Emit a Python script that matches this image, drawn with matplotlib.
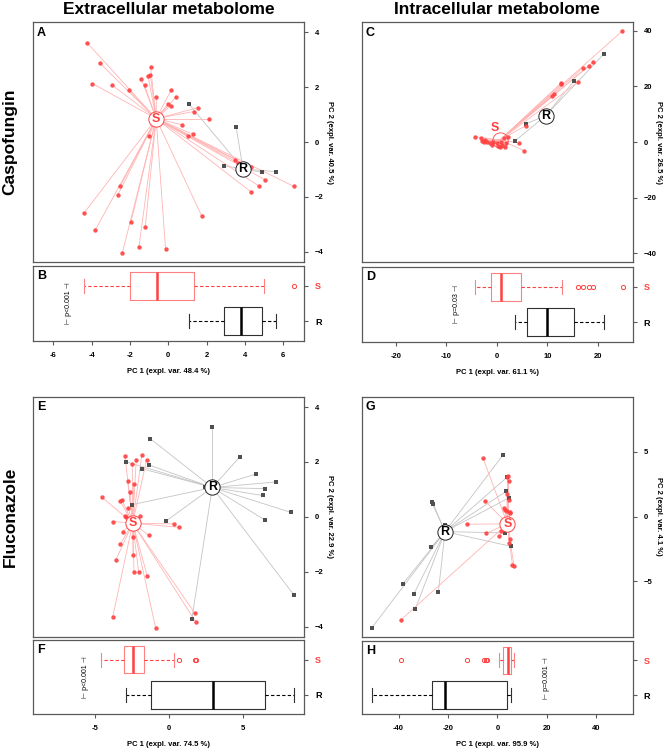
import matplotlib
matplotlib.use("Agg")
import matplotlib.pyplot as plt

plt.rcParams['font.family'] = ['Liberation Sans', 'DejaVu Sans']

RED = '#ff4040'
RED_LINE = '#ffb4b4'
GREY_PT = '#505050'
GREY_LINE = '#c4c4c4'
FRAME = '#5a5a5a'

# ---- panel A / B : caspofungin, extracellular ----
a_s_x = [-4.23, -3.58, -3.96, -2.92, -2.07, -1.41, -1.06, -0.94, -0.92, -1.23, -0.62, 0.16, 0.42,
         -0.02, 0.12, 1.32, 1.55, 2.11, 0.73, 1.01, 1.27, -0.99, 3.50, 3.64, 4.30, 5.03, 4.75, 4.33,
         6.54, -2.50, -2.64, -4.41, -3.81, -1.95, -1.20, -1.53, -2.40, -0.14, 1.74]
a_s_y = [3.61, 2.88, 2.13, 2.07, 1.90, 2.31, 2.42, 2.45, 2.74, 2.06, 1.64, 1.90, 1.65,
         1.38, 1.32, 1.11, 1.25, 0.85, 0.63, 0.23, 0.29, 0.23, -0.64, -0.76, -0.92, -1.37, -1.61, -1.82,
         -1.61, -1.60, -1.94, -2.60, -3.21, -2.92, -3.10, -3.83, -4.05, -3.89, -2.68]
a_r_x = [1.06, 3.55, 2.89, 3.96, 4.87, 5.62]
a_r_y = [1.40, 0.53, -0.86, -1.10, -1.10, -1.08]
a_cen_s = (-0.63, 0.85)
a_cen_r = (3.90, -0.98)
b_box_s = [-4.41, -2.00, -0.61, 1.32, 5.01]
b_fliers_s = [6.56]
b_box_r = [1.10, 2.91, 3.78, 4.89, 5.62]
b_fliers_r = []

# ---- panel C / D : caspofungin, intracellular ----
c_s_x = [24.87, 19.1, 18.3, 17.1, 16.0, 12.76, 12.7, 11.37, 10.97, 5.69, -4.37, -3.17, -2.9, -2.5,
         -2.0, -1.4, -1.05, -0.06, 0.27, 0.6, 1.06, 1.6, 1.9, 1.46, 2.1, 5.4, 0.85, -2.4, -0.7, 4.3]
c_s_y = [39.9, 28.8, 27.4, 26.7, 21.4, 21.2, 20.9, 17.3, 16.5, 5.86, 1.9, 1.3, 0.5, 0.1,
         -0.1, -0.5, -1.0, -0.5, -1.3, -1.7, -1.1, -1.7, -0.5, 1.3, 1.9, -3.1, 0.0, 0.7, -0.1, -0.3]
c_r_x = [3.57, 5.7, 9.86, 15.3, 21.2]
c_r_y = [0.36, 6.5, 9.0, 21.9, 31.6]
c_cen_s = (0.6, 0.7)
c_lab_s = (-0.5, 4.9)
c_cen_r = (9.66, 9.45)
d_box_s = [-4.43, -1.25, 0.73, 4.70, 12.9]
d_fliers_s = [16.0, 17.1, 18.3, 19.1, 25.0]
d_box_r = [3.57, 5.90, 9.86, 15.34, 21.2]
d_fliers_r = []

# ---- panel E / F : fluconazole, extracellular ----
e_s_x = [-2.95, -1.82, -1.49, -2.19, -2.46, -2.77, -2.36, -2.61, -4.53, -3.29, -3.16, -2.73, -2.95,
         -2.86, -1.94, -3.78, -3.11, -2.39, -1.35, -3.27, -3.56, -2.41, -2.34, -2.03, -1.45, 0.34,
         0.68, -3.78, -0.88, 1.78, 1.84]
e_s_y = [2.21, 2.24, 2.08, 2.07, 1.93, 1.29, 1.18, 0.91, 0.72, 0.58, 0.62, 0.32, 0.04,
         0.01, 0.04, -0.17, -0.54, -0.72, -0.67, -1.00, -1.56, -1.40, -2.01, -2.01, -2.14, -0.26,
         -0.38, -3.65, -4.05, -3.52, -3.84]
e_r_x = [-1.24, -2.91, -1.33, -1.78, -2.50, -0.20, 1.57, 2.45, 2.95, 4.82, 5.90, 7.25, 6.49, 6.35,
         8.28, 6.49, 8.47]
e_r_y = [2.85, 2.01, 1.89, 1.75, 0.44, -0.16, -3.71, 1.07, 3.26, 2.19, 1.56, 1.27, 1.03, 0.78,
         0.16, -0.11, -2.85]
e_cen_s = (-2.43, -0.23)
e_cen_r = (2.95, 1.07)
f_box_s = [-4.55, -3.02, -2.39, -1.67, 0.38]
f_fliers_s = [0.70, 1.78, 1.84]
f_box_r = [-2.88, -1.22, 2.97, 6.49, 8.49]
f_fliers_r = []

# ---- panel G / H : fluconazole, intracellular ----
g_s_x = [-5.8, 4.05, 4.45, 4.6, 3.8, 4.6, -5.0, 2.85, 3.8, 5.1, -12.4, -4.45, 0.8, 1.6, 5.1,
         4.86, 6.07, 6.76, -39.1, 4.9, 3.1]
g_s_y = [4.51, 3.09, 3.12, 2.73, 1.76, 1.31, 1.21, 0.67, 0.41, 0.28, -0.59, -1.29, -1.49, -1.13, -1.70,
         -2.03, -3.71, -3.84, -7.99, 0.34, 0.54]
g_r_x = [2.2, 4.05, 3.65, 4.6, 3.1, 5.55, -26.6, -26.0, -21.2, -26.7, -38.2, -33.8, -23.9, -33.2, -50.9]
g_r_y = [4.74, 3.07, 1.96, 1.44, -1.26, -2.3, 1.11, 0.98, -0.67, -2.35, -5.18, -5.98, -5.85, -7.12, -8.61]
g_cen_s = (4.05, -0.56)
g_cen_r = (-21.2, -1.16)
h_box_s = [0.8, 2.45, 4.46, 5.4, 6.9]
h_fliers_s = [-39.1, -12.3, -5.5, -4.7, -4.3]
h_box_r = [-50.9, -26.6, -21.2, 3.8, 5.55]
h_fliers_r = []


def frame(ax):
    for sp in ax.spines.values():
        sp.set_color(FRAME)
        sp.set_linewidth(0.9)


def scatter_panel(ax, sx, sy, rx, ry, cs, cr, xlim, ylim, yticks, ylab, letter, s_label_at=None):
    for x, y in zip(rx, ry):
        ax.plot([x, cr[0]], [y, cr[1]], color=GREY_LINE, lw=0.6, zorder=1)
    for x, y in zip(sx, sy):
        ax.plot([x, cs[0]], [y, cs[1]], color=RED_LINE, lw=0.6, zorder=1)
    ax.scatter(rx, ry, marker='s', s=8, color=GREY_PT, linewidths=0, zorder=3)
    ax.scatter(sx, sy, marker='o', s=10, color=RED, alpha=0.9, linewidths=0, zorder=3)
    # centroids
    ax.plot(*cr, 'o', ms=11, mfc='white', mec='#202020', mew=0.7, zorder=4)
    ax.text(*cr, 'R', ha='center', va='center', fontsize=9, fontweight='bold', color='black', zorder=5)
    if s_label_at is None:
        ax.plot(*cs, 'o', ms=11, mfc='white', mec=RED, mew=0.7, zorder=4)
        ax.text(*cs, 'S', ha='center', va='center', fontsize=9, fontweight='bold', color=RED, zorder=5)
    else:
        ax.plot(*cs, 'o', ms=11, mfc='none', mec=RED, mew=0.6, zorder=4)
        ax.text(*s_label_at, 'S', ha='center', va='center', fontsize=9, fontweight='bold', color=RED, zorder=5)
    ax.set_xlim(xlim)
    ax.set_ylim(ylim)
    ax.set_xticks([])
    ax.yaxis.tick_right()
    ax.set_yticks(yticks)
    ax.tick_params(axis='y', length=3, width=0.8, colors=FRAME, labelcolor='black', labelsize=5.5, pad=5)
    for t in ax.get_yticklabels():
        t.set_fontweight('bold')
    ax.set_ylabel(ylab, rotation=270, fontsize=5.5, fontweight='bold', va='center')
    ax.yaxis.set_label_position('right')
    ax.yaxis.set_label_coords(1.108, 0.5)
    ax.text(0.015, 0.98, letter, transform=ax.transAxes, ha='left', va='top', fontsize=9, fontweight='bold')
    frame(ax)


def box_panel(ax, box_s, fl_s, box_r, fl_r, xlim, xticks, xlab, letter, ptext, px):
    for stats, fl, pos, col, bcol in [(box_r, fl_r, 1, 'black', '#303030'), (box_s, fl_s, 2, RED, '#ff8080')]:
        st = dict(whislo=stats[0], q1=stats[1], med=stats[2], q3=stats[3], whishi=stats[4], fliers=fl)
        ax.bxp([st], positions=[pos], widths=0.78, orientation='horizontal',
               boxprops=dict(color=bcol, lw=0.8),
               medianprops=dict(color=col, lw=1.8),
               whiskerprops=dict(color=col, lw=0.8, linestyle=(0, (3, 2))),
               capprops=dict(color=bcol, lw=0.8),
               flierprops=dict(marker='o', mfc='none', mec=col, ms=3, mew=0.7))
    ax.set_xlim(xlim)
    ax.set_ylim(0.45, 2.55)
    ax.set_xticks(xticks)
    ax.set_xticklabels([str(v) for v in xticks])
    ax.tick_params(axis='x', length=3, width=0.8, colors=FRAME, labelcolor='black', labelsize=5.5, pad=5)
    for t in ax.get_xticklabels():
        t.set_fontweight('bold')
    ax.yaxis.tick_right()
    ax.set_yticks([1, 2])
    ax.set_yticklabels(['R', 'S'])
    ax.tick_params(axis='y', length=3, width=0.8, colors=FRAME, labelsize=6.5, pad=5)
    ylabs = ax.get_yticklabels()
    ylabs[0].set_color('black')
    ylabs[1].set_color(RED)
    for t in ylabs:
        t.set_fontweight('bold')
    ax.get_yticklines()[2].set_color(RED)
    ax.set_xlabel(xlab, fontsize=5.5, fontweight='bold')
    ax.xaxis.set_label_coords(0.5, -0.41)
    ax.xaxis.label.set_va('center')
    ax.text(px, 1.5, ptext, rotation=90, ha='center', va='center', fontsize=5)
    ax.text(0.015, 0.95, letter, transform=ax.transAxes, ha='left', va='top', fontsize=9, fontweight='bold')
    frame(ax)


fig = plt.figure(figsize=(6.69, 7.51), dpi=100)

L1, L2, W = 0.0493, 0.5407, 0.4049
axA = fig.add_axes([L1, 0.6511, W, 0.3196])
axB = fig.add_axes([L1, 0.5459, W, 0.0999])
axC = fig.add_axes([L2, 0.6511, W, 0.3196])
axD = fig.add_axes([L2, 0.5446, W, 0.0999])
axE = fig.add_axes([L1, 0.1518, W, 0.3200])
axF = fig.add_axes([L1, 0.0489, W, 0.0985])
axG = fig.add_axes([L2, 0.1518, W, 0.3200])
axH = fig.add_axes([L2, 0.0489, W, 0.0976])

scatter_panel(axA, a_s_x, a_s_y, a_r_x, a_r_y, a_cen_s, a_cen_r, (-7.06, 7.08), (-4.37, 4.37),
              [-4, -2, 0, 2, 4], 'PC 2 (expl. var. 40.5 %)', 'A')
box_panel(axB, b_box_s, b_fliers_s, b_box_r, b_fliers_r, (-7.06, 7.08), [-6, -4, -2, 0, 2, 4, 6],
          'PC 1 (expl. var. 48.4 %)', 'B', '⊢ p<0.001 ⊣', -5.2)

scatter_panel(axC, c_s_x, c_s_y, c_r_x, c_r_y, c_cen_s, c_cen_r, (-26.8, 26.9), (-43.1, 43.1),
              [-40, -20, 0, 20, 40], 'PC 2 (expl. var. 26.5 %)', 'C', s_label_at=c_lab_s)
box_panel(axD, d_box_s, d_fliers_s, d_box_r, d_fliers_r, (-26.8, 26.9), [-20, -10, 0, 10, 20],
          'PC 1 (expl. var. 61.1 %)', 'D', '⊢ p=0.03 ⊣', -8.0)

scatter_panel(axE, e_s_x, e_s_y, e_r_x, e_r_y, e_cen_s, e_cen_r, (-9.17, 9.14), (-4.38, 4.38),
              [-4, -2, 0, 2, 4], 'PC 2 (expl. var. 22.9 %)', 'E')
box_panel(axF, f_box_s, f_fliers_s, f_box_r, f_fliers_r, (-9.17, 9.14), [-5, 0, 5],
          'PC 1 (expl. var. 74.5 %)', 'F', '⊢ p<0.001 ⊣', -5.65)

scatter_panel(axG, g_s_x, g_s_y, g_r_x, g_r_y, g_cen_s, g_cen_r, (-54.9, 54.7), (-9.3, 9.26),
              [-5, 0, 5], 'PC 2 (expl. var. 4.1 %)', 'G')
box_panel(axH, h_box_s, h_fliers_s, h_box_r, h_fliers_r, (-54.9, 54.7), [-40, -20, 0, 20, 40],
          'PC 1 (expl. var. 95.9 %)', 'H', '⊢ p=0.001 ⊣', 19.7)

fig.text(168.5 / 669, 1 - 13.5 / 751, 'Extracellular metabolome', ha='center', va='baseline',
         fontsize=12.5, fontweight='bold')
fig.text(497 / 669, 1 - 13.5 / 751, 'Intracellular metabolome', ha='center', va='baseline',
         fontsize=12.5, fontweight='bold')
fig.text(10 / 669, 1 - 142 / 751, 'Caspofungin', rotation=90, ha='center', va='center',
         fontsize=12.5, fontweight='bold')
fig.text(10 / 669, 1 - 517 / 751, 'Fluconazole', rotation=90, ha='center', va='center',
         fontsize=12.5, fontweight='bold')

fig.savefig('out.png', dpi=100)
